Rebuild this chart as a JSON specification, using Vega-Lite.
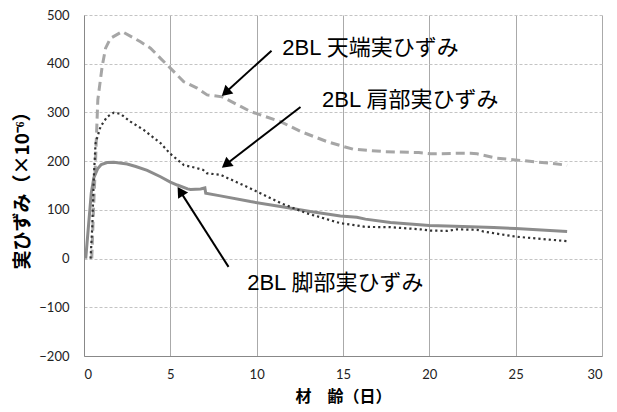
{
  "$schema": "https://vega.github.io/schema/vega-lite/v6.json",
  "width": 518,
  "height": 341,
  "autosize": {"type": "none"},
  "padding": {"left": 84, "top": 15, "right": 15, "bottom": 56},
  "config": {"view": {"stroke": null}, "font": "Lato"},
  "datasets": {
    "lines": [
      {"s": "天端", "x": 0.45, "y": 0}, {"s": "天端", "x": 0.55, "y": 100}, {"s": "天端", "x": 0.67, "y": 202},
      {"s": "天端", "x": 0.8, "y": 326}, {"s": "天端", "x": 1.05, "y": 394}, {"s": "天端", "x": 1.25, "y": 432},
      {"s": "天端", "x": 1.53, "y": 452}, {"s": "天端", "x": 2.21, "y": 466}, {"s": "天端", "x": 3.27, "y": 445},
      {"s": "天端", "x": 3.85, "y": 432}, {"s": "天端", "x": 4.43, "y": 411}, {"s": "天端", "x": 5.0, "y": 391},
      {"s": "天端", "x": 5.78, "y": 363}, {"s": "天端", "x": 6.55, "y": 350}, {"s": "天端", "x": 7.13, "y": 336},
      {"s": "天端", "x": 8.0, "y": 332}, {"s": "天端", "x": 9.64, "y": 302}, {"s": "天端", "x": 11.38, "y": 281},
      {"s": "天端", "x": 12.54, "y": 261}, {"s": "天端", "x": 14.08, "y": 240}, {"s": "天端", "x": 15.04, "y": 230},
      {"s": "天端", "x": 15.6, "y": 224.5}, {"s": "天端", "x": 17.36, "y": 219.6}, {"s": "天端", "x": 19.39, "y": 217.5},
      {"s": "天端", "x": 20.06, "y": 215}, {"s": "天端", "x": 21.6, "y": 216}, {"s": "天端", "x": 22.38, "y": 216},
      {"s": "天端", "x": 22.77, "y": 215}, {"s": "天端", "x": 23.93, "y": 206}, {"s": "天端", "x": 24.99, "y": 202.5},
      {"s": "天端", "x": 27.0, "y": 195.7}, {"s": "天端", "x": 27.98, "y": 191.6},
      {"s": "肩部", "x": 0.38, "y": 0}, {"s": "肩部", "x": 0.48, "y": 66}, {"s": "肩部", "x": 0.57, "y": 168},
      {"s": "肩部", "x": 0.67, "y": 237}, {"s": "肩部", "x": 0.96, "y": 271}, {"s": "肩部", "x": 1.34, "y": 291},
      {"s": "肩部", "x": 1.73, "y": 299.6}, {"s": "肩部", "x": 2.11, "y": 297}, {"s": "肩部", "x": 2.69, "y": 281},
      {"s": "肩部", "x": 3.46, "y": 264}, {"s": "肩部", "x": 4.43, "y": 237}, {"s": "肩部", "x": 5.0, "y": 215},
      {"s": "肩部", "x": 5.78, "y": 192}, {"s": "肩部", "x": 6.55, "y": 185.5}, {"s": "肩部", "x": 6.9, "y": 182},
      {"s": "肩部", "x": 7.13, "y": 175}, {"s": "肩部", "x": 7.9, "y": 172}, {"s": "肩部", "x": 9.64, "y": 144},
      {"s": "肩部", "x": 11.38, "y": 114}, {"s": "肩部", "x": 12.9, "y": 93}, {"s": "肩部", "x": 14.85, "y": 72.6},
      {"s": "肩部", "x": 15.8, "y": 68}, {"s": "肩部", "x": 16.3, "y": 65}, {"s": "肩部", "x": 17.75, "y": 64.4},
      {"s": "肩部", "x": 19.48, "y": 60}, {"s": "肩部", "x": 20.06, "y": 57.5}, {"s": "肩部", "x": 21.03, "y": 56.8},
      {"s": "肩部", "x": 21.6, "y": 60}, {"s": "肩部", "x": 22.77, "y": 59}, {"s": "肩部", "x": 23.15, "y": 55.4},
      {"s": "肩部", "x": 25.0, "y": 45}, {"s": "肩部", "x": 27.98, "y": 35.7},
      {"s": "脚部", "x": 0.1, "y": 0}, {"s": "脚部", "x": 0.42, "y": 134}, {"s": "脚部", "x": 0.57, "y": 166},
      {"s": "脚部", "x": 0.8, "y": 185}, {"s": "脚部", "x": 1.0, "y": 193}, {"s": "脚部", "x": 1.34, "y": 197},
      {"s": "脚部", "x": 1.73, "y": 197.5}, {"s": "脚部", "x": 2.5, "y": 194}, {"s": "脚部", "x": 3.0, "y": 189},
      {"s": "脚部", "x": 3.66, "y": 181}, {"s": "脚部", "x": 4.43, "y": 168}, {"s": "脚部", "x": 5.0, "y": 157},
      {"s": "脚部", "x": 5.4, "y": 151}, {"s": "脚部", "x": 6.0, "y": 143}, {"s": "脚部", "x": 6.17, "y": 142},
      {"s": "脚部", "x": 6.75, "y": 143}, {"s": "脚部", "x": 7.0, "y": 145}, {"s": "脚部", "x": 7.05, "y": 134},
      {"s": "脚部", "x": 7.9, "y": 128.7}, {"s": "脚部", "x": 9.64, "y": 117}, {"s": "脚部", "x": 11.38, "y": 107},
      {"s": "脚部", "x": 13.1, "y": 96.5}, {"s": "脚部", "x": 14.85, "y": 87.6}, {"s": "脚部", "x": 15.8, "y": 85},
      {"s": "脚部", "x": 16.3, "y": 81}, {"s": "脚部", "x": 17.75, "y": 74}, {"s": "脚部", "x": 20.0, "y": 68},
      {"s": "脚部", "x": 21.0, "y": 67}, {"s": "脚部", "x": 22.38, "y": 65.5}, {"s": "脚部", "x": 23.73, "y": 63.6},
      {"s": "脚部", "x": 25.0, "y": 61.6}, {"s": "脚部", "x": 27.98, "y": 55.4}
    ],
    "arrows": [
      {"x": 10.86, "y": 426.8, "x2": 8.1, "y2": 338},
      {"x": 12.54, "y": 311.3, "x2": 8.1, "y2": 190},
      {"x": 8.37, "y": -17, "x2": 5.5, "y2": 142}
    ],
    "heads": [
      {"x": 8.2, "y": 341, "ang": 228},
      {"x": 8.22, "y": 193, "ang": 232},
      {"x": 5.58, "y": 138, "ang": 327.5}
    ],
    "labels": [
      {"x": 11.48, "y": 432, "t": "2BL 天端実ひずみ"},
      {"x": 13.79, "y": 325.7, "t": "2BL 肩部実ひずみ"},
      {"x": 9.45, "y": -50, "t": "2BL 脚部実ひずみ"}
    ]
  },
  "encoding": {
    "x": {
      "field": "x", "type": "quantitative",
      "scale": {"domain": [0, 30], "nice": false, "zero": false},
      "axis": {
        "values": [0, 5, 10, 15, 20, 25, 30],
        "title": "材　齢（日）",
        "titleFont": "Noto Sans CJK JP", "titleFontSize": 16, "titleFontWeight": "bold", "titleColor": "#000",
        "titlePadding": 7,
        "labelFont": "Lato", "labelFontSize": 13, "labelColor": "#222", "labelPadding": 12,
        "ticks": false, "domainColor": "#888", "gridColor": "#aaaaaa", "grid": true
      }
    },
    "y": {
      "field": "y", "type": "quantitative",
      "scale": {"domain": [-200, 500], "nice": false, "zero": false},
      "axis": {
        "values": [-200, -100, 0, 100, 200, 300, 400, 500],
        "title": "実ひずみ（×10⁻⁶）",
        "titleFont": "Noto Sans CJK JP", "titleFontSize": 19, "titleFontWeight": "bold", "titleColor": "#000",
        "titlePadding": 6,
        "labelFont": "Lato", "labelFontSize": 13, "labelColor": "#222", "labelPadding": 15,
        "ticks": false, "domainColor": "#888", "gridColor": "#c4c4c4", "gridDash": [3, 2], "grid": true
      }
    }
  },
  "layer": [
    {
      "data": {"name": "lines"},
      "transform": [{"filter": "datum.s === '天端'"}],
      "mark": {"type": "line", "strokeCap": "butt", "color": "#a6a6a6", "strokeWidth": 3, "strokeDash": [9, 5]}
    },
    {
      "data": {"name": "lines"},
      "transform": [{"filter": "datum.s === '脚部'"}],
      "mark": {"type": "line", "color": "#8c8c8c", "strokeWidth": 3}
    },
    {
      "data": {"name": "lines"},
      "transform": [{"filter": "datum.s === '肩部'"}],
      "mark": {"type": "line", "strokeCap": "butt", "color": "#333333", "strokeWidth": 2.2, "strokeDash": [2.2, 3]}
    },
    {
      "data": {"name": "arrows"},
      "mark": {"type": "rule", "color": "#000", "strokeWidth": 2},
      "encoding": {
        "x2": {"field": "x2"},
        "y2": {"field": "y2"}
      }
    },
    {
      "data": {"name": "heads"},
      "mark": {"type": "point", "shape": "triangle-up", "filled": true, "color": "#000", "size": 140, "opacity": 1},
      "encoding": {
        "angle": {"field": "ang", "type": "quantitative", "scale": null}
      }
    },
    {
      "data": {"name": "labels"},
      "mark": {"type": "text", "align": "left", "baseline": "middle", "font": "Liberation Sans, Noto Sans CJK JP", "fontSize": 22, "color": "#000"},
      "encoding": {
        "text": {"field": "t"}
      }
    }
  ]
}
